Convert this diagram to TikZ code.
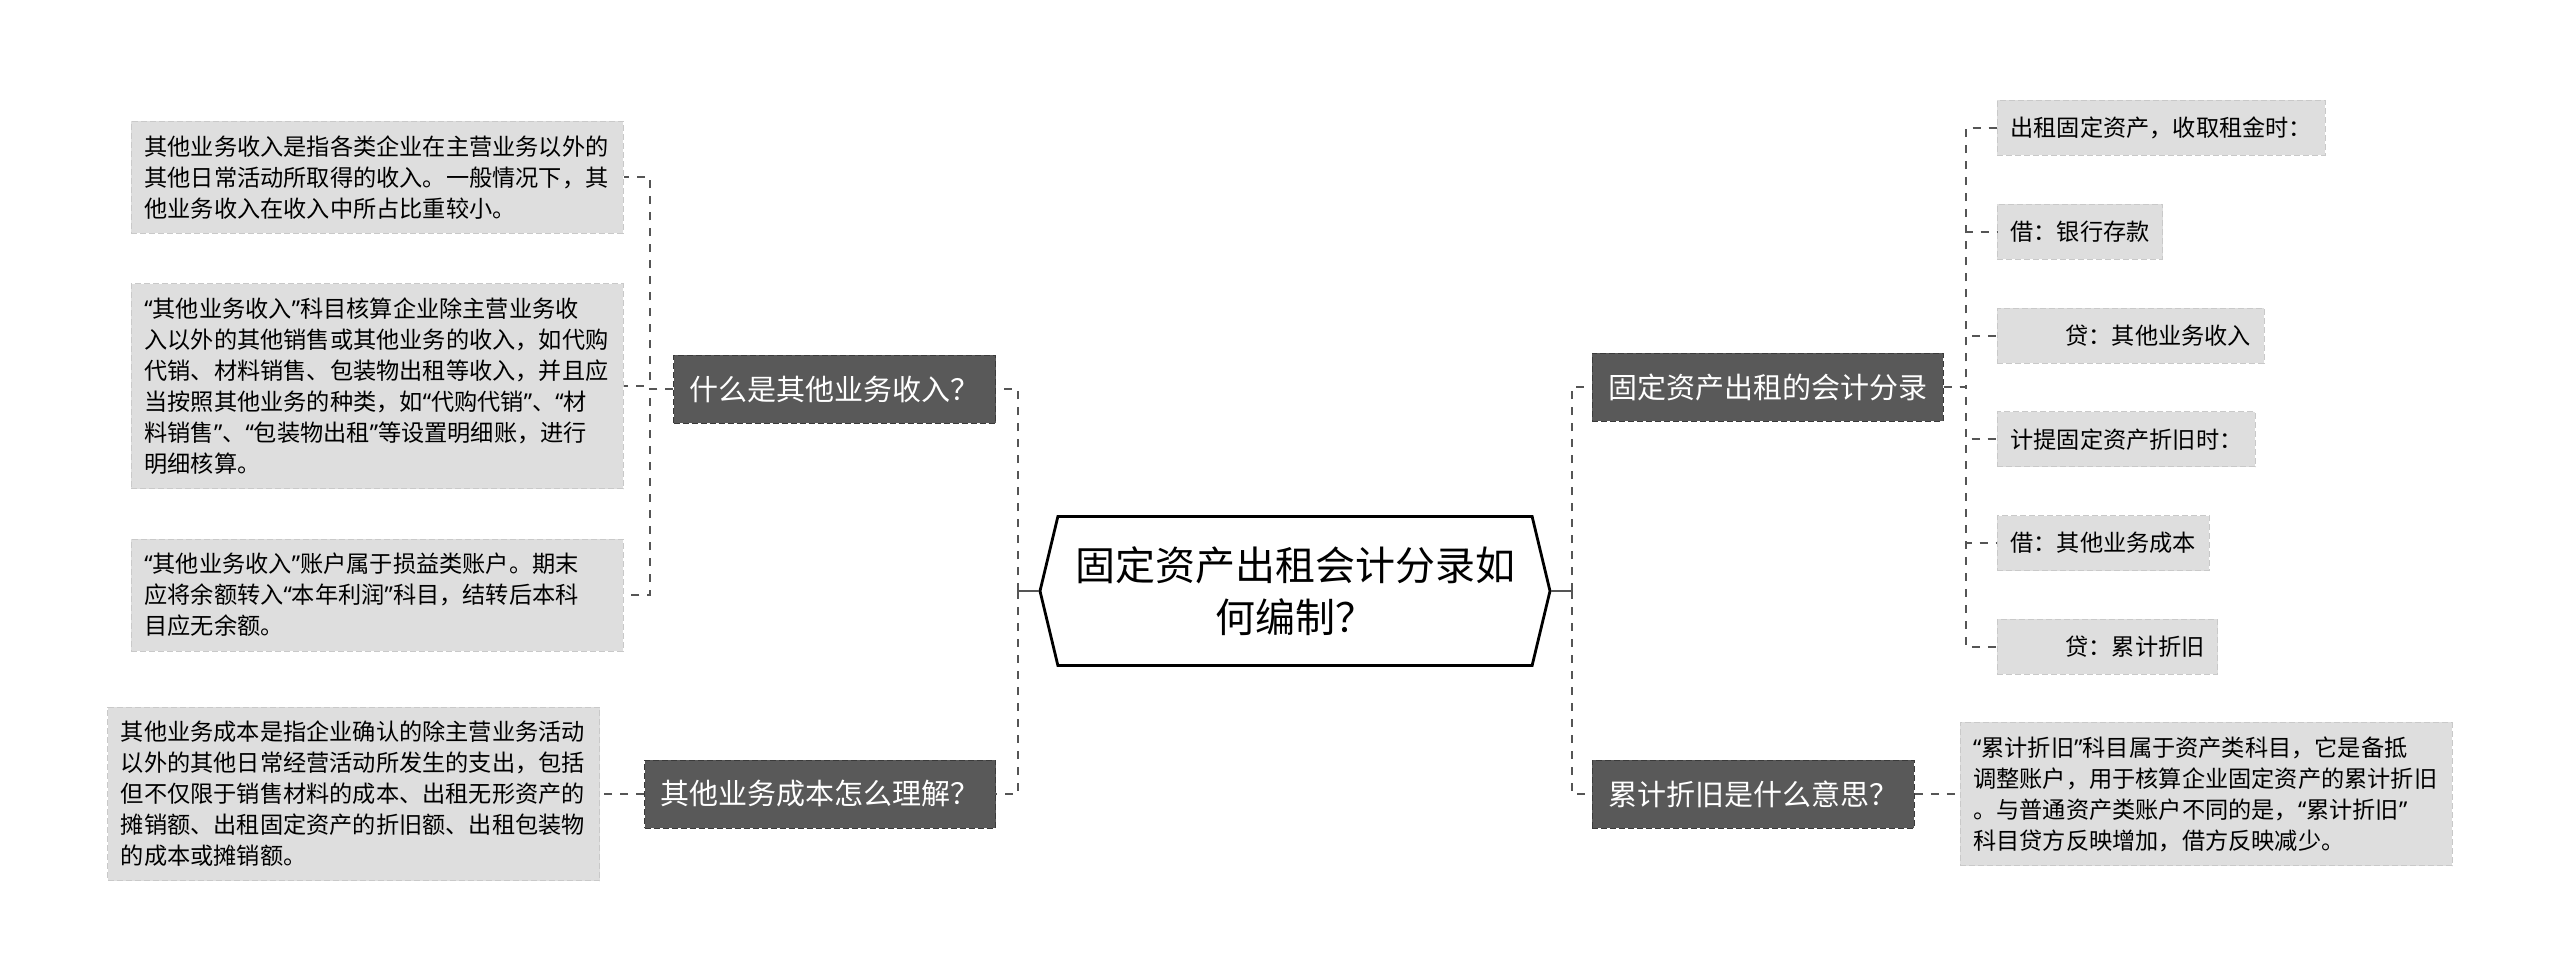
\documentclass[tikz,border=0pt]{standalone}
\usepackage{fontspec}
\newfontfamily\cjk{Noto Sans CJK SC}
\newfontfamily\quotefont{Noto Sans}
\newcommand\cjkoq{{\quotefont “}}
\newcommand\cjkcq{{\quotefont ”}}
\usepackage{tikz}
\usetikzlibrary{positioning,shapes.symbols}

\definecolor{topicfill}{HTML}{595959}
\definecolor{topicline}{HTML}{3A3A3A}
\definecolor{leaffill}{HTML}{DEDEDE}
\definecolor{leafline}{HTML}{C9C9C9}
\definecolor{linkgray}{HTML}{555555}

\begin{document}
\begin{tikzpicture}[
x=0.5pt, y=-0.5pt,
root/.style={signal, signal to=west and east, signal pointer angle=153, draw=black, line width=1.4pt, fill=white, minimum width=255pt, minimum height=74.5pt, inner sep=0pt, align=center, font=\cjk\fontsize{20}{26}\selectfont},
topic/.style={draw=topicline, dash pattern=on 3pt off 1.5pt, fill=topicfill, text=white, minimum height=34pt, inner xsep=8pt, font=\cjk\fontsize{14.5}{18}\selectfont},
leaf/.style={draw=leafline, dash pattern=on 3pt off 1.5pt, fill=leaffill, text width=233pt, align=left, inner xsep=6.5pt, inner ysep=7pt, font=\cjk\fontsize{11.6}{15.5}\selectfont},
entry/.style={draw=leafline, dash pattern=on 3pt off 1.5pt, fill=leaffill, minimum height=27.5pt, inner xsep=6.5pt, font=\cjk\fontsize{11.6}{15.5}\selectfont},
link/.style={draw=linkgray, line width=1pt, dash pattern=on 4pt off 4pt},
stub/.style={draw=linkgray, line width=1.2pt}
]
\fill[white] (0,0) rectangle (2560,979);
\useasboundingbox (0,0) rectangle (2560,979);

\node[root] (root) at (1295,591) {固定资产出租会计分录如\\何编制？};

% left side
\node[topic, anchor=east] (q1) at (996,389) {什么是其他业务收入？};
\node[topic, anchor=east] (q2) at (996,794) {其他业务成本怎么理解？};

\node[leaf, anchor=north west] (a1) at (131,121) {其他业务收入是指各类企业在主营业务以外的\\其他日常活动所取得的收入。一般情况下，其\\他业务收入在收入中所占比重较小。};
\node[leaf, below=25pt of a1] (a2) {\cjkoq 其他业务收入\cjkcq 科目核算企业除主营业务收\\入以外的其他销售或其他业务的收入，如代购\\代销、材料销售、包装物出租等收入，并且应\\当按照其他业务的种类，如\cjkoq 代购代销\cjkcq 、\cjkoq 材\\料销售\cjkcq 、\cjkoq 包装物出租\cjkcq 等设置明细账，进行\\明细核算。};
\node[leaf, below=25pt of a2] (a3) {\cjkoq 其他业务收入\cjkcq 账户属于损益类账户。期末\\应将余额转入\cjkoq 本年利润\cjkcq 科目，结转后本科\\目应无余额。};
\node[leaf, left=22pt of q2] (c1) {其他业务成本是指企业确认的除主营业务活动\\以外的其他日常经营活动所发生的支出，包括\\但不仅限于销售材料的成本、出租无形资产的\\摊销额、出租固定资产的折旧额、出租包装物\\的成本或摊销额。};

% right side
\node[topic, anchor=west] (r1) at (1592,387) {固定资产出租的会计分录};
\node[topic, anchor=west] (r2) at (1592,794) {累计折旧是什么意思？};

\node[entry, anchor=north west] (b1) at (1997,100) {出租固定资产，收取租金时：};
\node[entry, below=24pt of b1.south west, anchor=north west] (b2) {借：银行存款};
\node[entry, below=24pt of b2.south west, anchor=north west] (b3) {\hspace*{27.5pt}贷：其他业务收入};
\node[entry, below=24pt of b3.south west, anchor=north west] (b4) {计提固定资产折旧时：};
\node[entry, below=24pt of b4.south west, anchor=north west] (b5) {借：其他业务成本};
\node[entry, below=24pt of b5.south west, anchor=north west] (b6) {\hspace*{27.5pt}贷：累计折旧};
\node[leaf, right=22.5pt of r2] (d1) {\cjkoq 累计折旧\cjkcq 科目属于资产类科目，它是备抵\\调整账户，用于核算企业固定资产的累计折旧\\。与普通资产类账户不同的是，\cjkoq 累计折旧\cjkcq\\科目贷方反映增加，借方反映减少。};

% connectors
\draw[stub] (root.west) -- ++(-21,0) coordinate (lj);
\draw[stub] (root.east) -- ++(21,0) coordinate (rj);
\draw[link] (lj) |- (q1.east);
\draw[link] (lj) |- (q2.east);
\draw[link] (rj) |- (r1.west);
\draw[link] (rj) |- (r2.west);
\foreach \n in {a1,a2,a3}
  \draw[link] (q1.west) -- ++(-23,0) |- (\n.east);
\draw[link] (q2.west) -- (c1.east);
\foreach \n in {b1,b2,b3,b4,b5,b6}
  \draw[link] (r1.east) -- ++(22,0) |- (\n.west);
\draw[link] (r2.east) -- (d1.west);
\end{tikzpicture}
\end{document}
